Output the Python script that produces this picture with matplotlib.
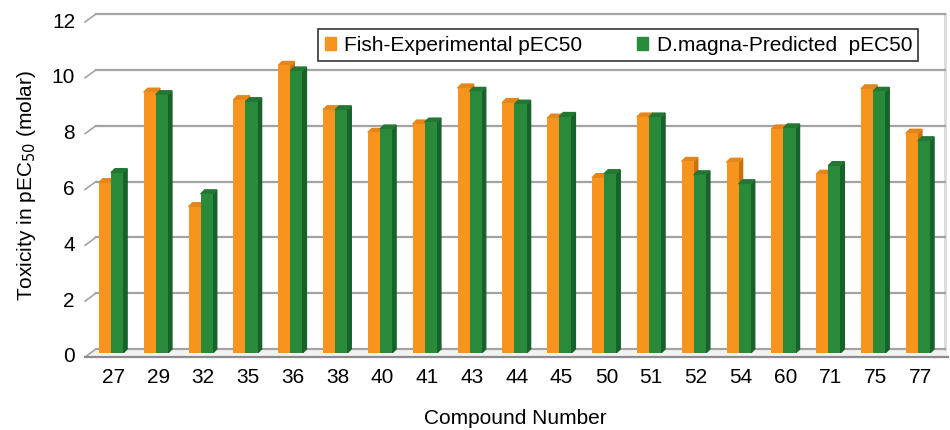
import numpy as np
from matplotlib import pyplot as plt
from matplotlib.patches import Polygon, Patch

plt.rcParams['font.family'] = ['Liberation Sans', 'DejaVu Sans']

compounds = ['27', '29', '32', '35', '36', '38', '40', '41', '43', '44',
             '45', '50', '51', '52', '54', '60', '71', '75', '77']
fish_exp = [6.1, 9.34, 5.24, 9.07, 10.3, 8.71, 7.9, 8.2, 9.49, 8.97,
            8.41, 6.28, 8.45, 6.86, 6.83, 8.02, 6.4, 9.46, 7.87]
dmagna_pred = [6.46, 9.25, 5.7, 9.0, 10.1, 8.71, 8.02, 8.27, 9.37, 8.91,
               8.47, 6.42, 8.45, 6.38, 6.06, 8.06, 6.71, 9.37, 7.6]
yticks = [0, 2, 4, 6, 8, 10, 12]

orange = ['#F7941D', '#C8720E', '#E5861A']  # front, side, top
green = ['#2A8A3B', '#17612A', '#237733']
fs = 15

W, H = 950, 430
fig = plt.figure(figsize=(W / 100, H / 100), dpi=100)
ax = fig.add_axes([85 / W, 77 / H, 860 / W, 335 / H])
n = len(compounds)
x = np.arange(n)
ax.set_xlim(-26 / 44.83, (945 - 111) / 44.83)
ax.set_ylim(0, 12)
for s in ax.spines.values():
    s.set_visible(False)

# pixel -> data scale, for the fake 3d depth
p0 = ax.transData.transform((0, 0))
p1 = ax.transData.transform((1, 1))
sx, sy = p1[0] - p0[0], p1[1] - p0[1]
wall_dx, wall_dy = 11 / sx, 4 / sy   # back wall offset from bar plane
xl, xr = ax.get_xlim()

# walls / gridlines
grid_c = '#A3A3A3'
for v in yticks:
    ax.plot([xl + wall_dx, xr], [v + wall_dy] * 2, color=grid_c, lw=1.6,
            clip_on=False, zorder=1)
    ax.plot([xl, xl + wall_dx], [v - wall_dy, v + wall_dy], color=grid_c,
            lw=1.2, clip_on=False, zorder=1)
    ax.text(xl - 10 / sx, v - wall_dy, str(v), ha='right', va='center',
            fontsize=fs)
ax.plot([xl, xr + 3 / sx], [-wall_dy, -wall_dy], color='#8C8C8C', lw=1.6,
        clip_on=False, zorder=1)
ax.fill([xl, xl + wall_dx, xr, xr + 3 / sx], [-wall_dy, wall_dy, wall_dy, -wall_dy],
        color='#F2F2F2', clip_on=False, zorder=0)
ax.plot([xr, xr], [wall_dy, 12 + wall_dy], color='#DADADA', lw=2,
        clip_on=False, zorder=0)

# bars with side and top faces
bw = 0.27
ddx, ddy = 4 / sx, 4 / sy


def bars3d(xs, vals, cols):
    for xc, h in zip(xs, vals):
        x0 = xc - bw / 2
        ax.add_patch(Polygon([(x0 + bw, 0), (x0 + bw + ddx, ddy),
                              (x0 + bw + ddx, h + ddy), (x0 + bw, h)],
                             closed=True, color=cols[1], zorder=3))
        ax.add_patch(Polygon([(x0, h), (x0 + ddx, h + ddy),
                              (x0 + bw + ddx, h + ddy), (x0 + bw, h)],
                             closed=True, color=cols[2], zorder=3))
    ax.bar(xs, vals, width=bw, color=cols[0], zorder=3)


bars3d(x - bw / 2, fish_exp, orange)
bars3d(x + bw / 2, dmagna_pred, green)

ax.set_xticks(x + 0.05, compounds, fontsize=fs)
ax.set_yticks([])
ax.tick_params(axis='x', length=0, pad=11)

ax.set_ylabel('Toxicity in pEC$_{50}$ (molar)', fontsize=fs, labelpad=34)
fig.text(515 / W, 1 - 418 / H, 'Compound Number', ha='center', va='center',
         fontsize=fs)

handles = [Patch(color=orange[0], label='Fish-Experimental pEC50'),
           Patch(color=green[0], label='D.magna-Predicted  pEC50')]
leg = fig.legend(handles=handles, loc='upper left', ncol=2,
                 bbox_to_anchor=(308 / W, 1 - 19 / H), fontsize=fs,
                 frameon=True, fancybox=False, handlelength=0.55,
                 handleheight=0.55, handletextpad=0.4, columnspacing=2.6,
                 borderpad=0.3)
leg.get_frame().set_edgecolor('black')
leg.get_frame().set_linewidth(1.2)

plt.savefig('out.png', dpi=100)
